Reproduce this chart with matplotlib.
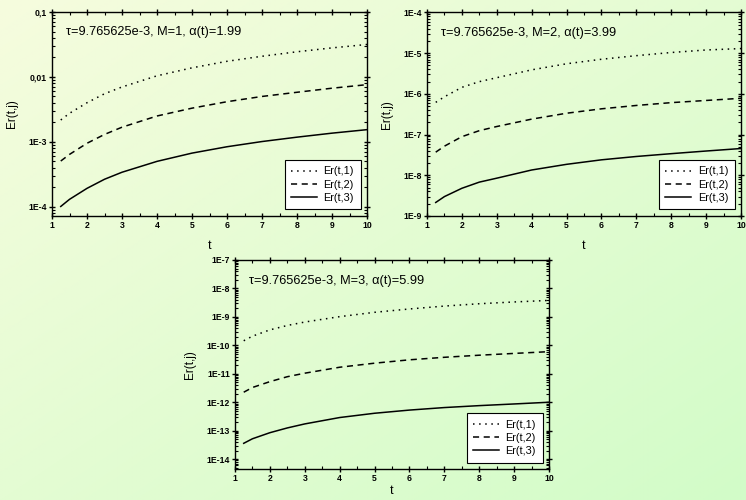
import numpy as np
import matplotlib
matplotlib.use("Agg")
import matplotlib.pyplot as plt
from matplotlib.ticker import FixedLocator, FixedFormatter, MultipleLocator, LogLocator, NullFormatter

plt.rcParams['font.family'] = ['Liberation Sans', 'DejaVu Sans']

t = [1.25, 1.5, 2, 2.5, 3, 4, 5, 6, 7, 8, 9, 10]

# Panel 1: M=1
p1_er1 = [2.17e-3, 2.75e-3, 4.0e-3, 5.5e-3, 7.0e-3, 1.04e-2, 1.38e-2, 1.74e-2, 2.08e-2, 2.44e-2, 2.8e-2, 3.16e-2]
p1_er2 = [5.06e-4, 6.4e-4, 9.5e-4, 1.3e-3, 1.68e-3, 2.5e-3, 3.3e-3, 4.15e-3, 5.0e-3, 5.8e-3, 6.7e-3, 7.6e-3]
p1_er3 = [1.01e-4, 1.3e-4, 1.92e-4, 2.65e-4, 3.4e-4, 5.0e-4, 6.7e-4, 8.4e-4, 1.01e-3, 1.18e-3, 1.36e-3, 1.54e-3]

# Panel 2: M=2
p2_er1 = [6.2e-7, 8.5e-7, 1.45e-6, 2.0e-6, 2.5e-6, 3.9e-6, 5.5e-6, 7.1e-6, 8.7e-6, 1.04e-5, 1.2e-5, 1.3e-5]
p2_er2 = [3.7e-8, 5.2e-8, 8.9e-8, 1.25e-7, 1.58e-7, 2.4e-7, 3.35e-7, 4.3e-7, 5.2e-7, 6.1e-7, 6.9e-7, 7.8e-7]
p2_er3 = [2.15e-9, 3.0e-9, 4.8e-9, 6.8e-9, 8.5e-9, 1.35e-8, 1.86e-8, 2.4e-8, 2.9e-8, 3.4e-8, 3.95e-8, 4.55e-8]

# Panel 3: M=3
p3_er1 = [1.45e-10, 2.1e-10, 3.5e-10, 5.0e-10, 6.6e-10, 1.02e-9, 1.45e-9, 1.9e-9, 2.4e-9, 2.9e-9, 3.35e-9, 3.8e-9]
p3_er2 = [2.25e-12, 3.3e-12, 5.3e-12, 7.9e-12, 1.05e-11, 1.7e-11, 2.36e-11, 3.1e-11, 3.8e-11, 4.5e-11, 5.2e-11, 6.0e-11]
p3_er3 = [3.6e-14, 5.2e-14, 8.5e-14, 1.25e-13, 1.73e-13, 2.9e-13, 4.1e-13, 5.3e-13, 6.5e-13, 7.6e-13, 8.7e-13, 1.0e-12]

titles = ["\u03c4=9.765625e-3, M=1, \u03b1(t)=1.99",
          "\u03c4=9.765625e-3, M=2, \u03b1(t)=3.99",
          "\u03c4=9.765625e-3, M=3, \u03b1(t)=5.99"]
series_labels = ["Er(t,1)", "Er(t,2)", "Er(t,3)"]
x_ticks = [1, 2, 3, 4, 5, 6, 7, 8, 9, 10]

p1_yticks = [1e-4, 1e-3, 1e-2, 1e-1]
p1_ylabels = ["1E-4", "1E-3", "0,01", "0,1"]
p2_yticks = [1e-9, 1e-8, 1e-7, 1e-6, 1e-5, 1e-4]
p2_ylabels = ["1E-9", "1E-8", "1E-7", "1E-6", "1E-5", "1E-4"]
p3_yticks = [1e-14, 1e-13, 1e-12, 1e-11, 1e-10, 1e-9, 1e-8, 1e-7]
p3_ylabels = ["1E-14", "1E-13", "1E-12", "1E-11", "1E-10", "1E-9", "1E-8", "1E-7"]

ylims = [(7.2e-5, 0.1), (1e-9, 1e-4), (4.5e-15, 1e-7)]

fig = plt.figure(figsize=(7.46, 5.0), dpi=100)

# background gradient
bg = fig.add_axes([0, 0, 1, 1], zorder=-10)
gx = np.linspace(0, 1, 200)
gy = np.linspace(0, 1, 200)
GX, GY = np.meshgrid(gx, gy)
w = np.clip((GX + GY) / 2.0, 0, 1)
c0 = np.array([246, 252, 222]) / 255.0
c1 = np.array([210, 252, 200]) / 255.0
img = c0[None, None, :] * (1 - w[..., None]) + c1[None, None, :] * w[..., None]
bg.imshow(img, aspect='auto', extent=[0, 1, 0, 1], origin='upper')
bg.axis('off')

positions = [
    [52/746, 1-216/500, 315/746, 204/500],
    [427/746, 1-216/500, 314/746, 203.5/500],
    [235/746, 1-469/500, 314/746, 209/500],
]
xlabelpads = [7, 7, 1.5]

data = [(p1_er1, p1_er2, p1_er3), (p2_er1, p2_er2, p2_er3), (p3_er1, p3_er2, p3_er3)]
yt = [(p1_yticks, p1_ylabels), (p2_yticks, p2_ylabels), (p3_yticks, p3_ylabels)]
styles = [(0, (1, 3)), (0, (4, 3)), '-']

for i in range(3):
    ax = fig.add_axes(positions[i])
    ax.patch.set_alpha(0)
    for s, ls, lab in zip(data[i], styles, series_labels):
        ax.plot(t, s, color='black', linestyle=ls, linewidth=1.1, label=lab)
    ax.set_yscale('log')
    ax.set_xlim(1, 10)
    ax.set_ylim(*ylims[i])
    ax.xaxis.set_major_locator(FixedLocator(x_ticks))
    ax.xaxis.set_minor_locator(MultipleLocator(0.5))
    ax.yaxis.set_major_locator(FixedLocator(yt[i][0]))
    ax.yaxis.set_major_formatter(FixedFormatter(yt[i][1]))
    ax.yaxis.set_minor_locator(LogLocator(base=10, subs=np.arange(2, 10), numticks=30))
    ax.yaxis.set_minor_formatter(NullFormatter())
    ax.tick_params(which='major', direction='inout', length=4, width=1.0,
                   top=True, right=True, labelsize=6.2, pad=1.5)
    ax.tick_params(which='minor', direction='in', length=2.2, width=0.8,
                   top=True, right=True)
    for lbl in ax.get_xticklabels() + ax.get_yticklabels():
        lbl.set_fontweight('bold')
    for sp in ax.spines.values():
        sp.set_linewidth(1.0)
    ax.set_xlabel('t', fontsize=9, labelpad=xlabelpads[i])
    ax.set_ylabel('Er(t,j)', fontsize=8.5, labelpad=7.5)
    ax.text(0.043, 0.90, titles[i], transform=ax.transAxes, fontsize=9.2,
            ha='left', va='center')
    leg = ax.legend(loc='lower right', fontsize=7.8, frameon=True, fancybox=False,
                    edgecolor='black', framealpha=1.0, handlelength=2.4,
                    borderpad=0.6, labelspacing=0.3, handletextpad=0.6,
                    borderaxespad=0.6, markerfirst=True)
    leg.get_frame().set_linewidth(0.8)

fig.savefig('out.png', dpi=100)
